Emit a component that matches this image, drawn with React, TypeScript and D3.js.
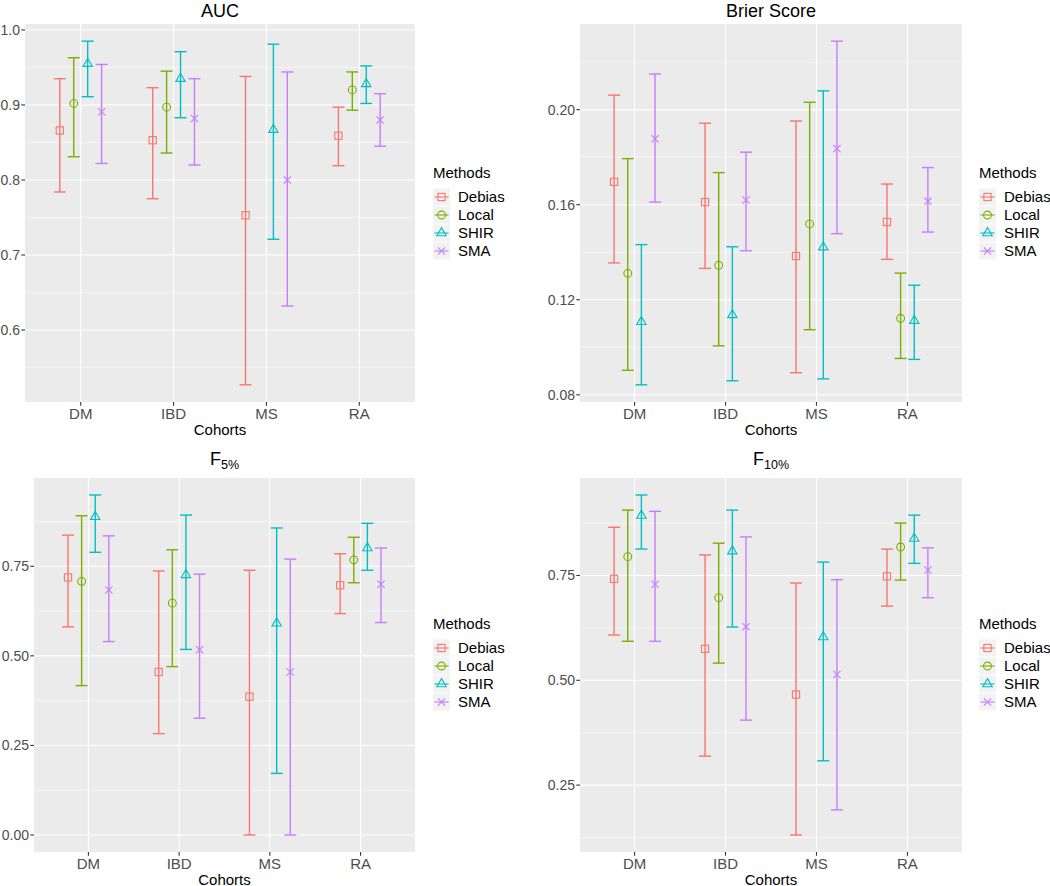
import React from "react";
import * as d3 from "d3";

const COHORTS = ["DM", "IBD", "MS", "RA"];
const METHODS = ["Debias", "Local", "SHIR", "SMA"];
const COLORS = ["#F8766D", "#7CAE00", "#00BFC4", "#C77CFF"];
const SHAPES = ["square", "circle", "triangle", "cross"];

// [method][cohort]
const aucEst = [
  [0.866, 0.853, 0.753, 0.859],
  [0.902, 0.897, null, 0.92],
  [0.955, 0.935, 0.867, 0.928],
  [0.891, 0.882, 0.8, 0.88],
];
const aucLo = [
  [0.784, 0.775, 0.527, 0.819],
  [0.831, 0.836, null, 0.893],
  [0.911, 0.883, 0.721, 0.902],
  [0.822, 0.82, 0.632, 0.845],
];
const aucHi = [
  [0.935, 0.923, 0.938, 0.897],
  [0.963, 0.945, null, 0.944],
  [0.985, 0.971, 0.981, 0.952],
  [0.954, 0.935, 0.944, 0.915],
];

const brierEst = [
  [0.1696, 0.1611, 0.1384, 0.1527],
  [0.1311, 0.1345, 0.1519, 0.1122],
  [0.1107, 0.1136, 0.1421, 0.1112],
  [0.1877, 0.162, 0.1836, 0.1614],
];
const brierLo = [
  [0.1355, 0.1332, 0.0893, 0.137],
  [0.0903, 0.1006, 0.1074, 0.0953],
  [0.0842, 0.0859, 0.0867, 0.0949],
  [0.1611, 0.1406, 0.1478, 0.1485],
];
const brierHi = [
  [0.2061, 0.1943, 0.1952, 0.1687],
  [0.1794, 0.1735, 0.2031, 0.1312],
  [0.1432, 0.1423, 0.2079, 0.1261],
  [0.215, 0.1821, 0.2288, 0.1756],
];

const f5Est = [
  [0.719, 0.455, 0.386, 0.697],
  [0.708, 0.647, null, 0.768],
  [0.888, 0.726, 0.591, 0.801],
  [0.684, 0.517, 0.455, 0.7],
];
const f5Lo = [
  [0.581, 0.283, 0.0, 0.618],
  [0.417, 0.47, null, 0.704],
  [0.789, 0.518, 0.172, 0.739],
  [0.54, 0.326, 0.0, 0.593],
];
const f5Hi = [
  [0.837, 0.737, 0.739, 0.785],
  [0.891, 0.796, null, 0.831],
  [0.949, 0.893, 0.857, 0.87],
  [0.835, 0.728, 0.77, 0.801],
];

const f10Est = [
  [0.742, 0.575, 0.466, 0.748],
  [0.795, 0.697, null, 0.818],
  [0.893, 0.808, 0.603, 0.838],
  [0.729, 0.628, 0.514, 0.763],
];
const f10Lo = [
  [0.608, 0.319, 0.131, 0.677],
  [0.593, 0.541, null, 0.739],
  [0.813, 0.627, 0.308, 0.779],
  [0.593, 0.405, 0.191, 0.697],
];
const f10Hi = [
  [0.865, 0.799, 0.732, 0.813],
  [0.906, 0.827, null, 0.875],
  [0.942, 0.906, 0.782, 0.894],
  [0.903, 0.842, 0.74, 0.816],
];

const aucTicks = [0.6, 0.7, 0.8, 0.9, 1.0];
const brierTicks = [0.08, 0.12, 0.16, 0.2];
const f5Ticks = [0, 0.25, 0.5, 0.75];
const f10Ticks = [0.25, 0.5, 0.75];

const FONT = "'Liberation Sans', Arial, Helvetica, sans-serif";

function Marker({ shape, color }: { shape: string; color: string }) {
  const sw = 1.1;
  if (shape === "square")
    return <rect x={-3.6} y={-3.6} width={7.2} height={7.2} fill="none" stroke={color} strokeWidth={sw} />;
  if (shape === "circle") return <circle r={3.9} fill="none" stroke={color} strokeWidth={sw} />;
  if (shape === "triangle")
    return <path d="M0,-5.4L4.7,2.7L-4.7,2.7Z" fill="none" stroke={color} strokeWidth={sw} />;
  return (
    <path d="M-3.6,-3.6L3.6,3.6M-3.6,3.6L3.6,-3.6" fill="none" stroke={color} strokeWidth={sw} />
  );
}

type PanelProps = {
  title: React.ReactNode;
  box: [number, number, number, number];
  est: (number | null)[][];
  lo: (number | null)[][];
  hi: (number | null)[][];
  ticks: number[];
  fmt: string;
  legendY: number;
  legendX: number;
  titleY: number;
};

function Panel({ title, box, est, lo, hi, ticks, fmt, legendY, legendX, titleY }: PanelProps) {
  const [x0, y0, x1, y1] = box;
  const all: number[] = [];
  lo.forEach((r) => r.forEach((v) => v != null && all.push(v)));
  hi.forEach((r) => r.forEach((v) => v != null && all.push(v)));
  const mn = d3.min(all)!;
  const mx = d3.max(all)!;
  const pad = (mx - mn) * 0.05;
  const y = d3.scaleLinear().domain([mn - pad, mx + pad]).range([y1, y0]);
  const x = d3.scalePoint<string>().domain(COHORTS).range([x0, x1]).padding(0.6);
  const step = x.step();
  const dodge = 0.15 * step;
  const capW = 12;
  const f = d3.format(fmt);
  const [dmin, dmax] = y.domain();
  const tstep = ticks[1] - ticks[0];
  const minors: number[] = [];
  for (let t = ticks[0] - tstep / 2; t <= dmax; t += tstep) if (t >= dmin) minors.push(t);

  return (
    <g>
      <rect x={x0} y={y0} width={x1 - x0} height={y1 - y0} fill="#EBEBEB" />
      {minors.map((t, i) => (
        <line key={"mn" + i} x1={x0} x2={x1} y1={y(t)} y2={y(t)} stroke="#fff" strokeWidth={0.55} />
      ))}
      {ticks.map((t, i) => (
        <line key={"mj" + i} x1={x0} x2={x1} y1={y(t)} y2={y(t)} stroke="#fff" strokeWidth={1.1} />
      ))}
      {COHORTS.map((c) => (
        <line key={"v" + c} x1={x(c)} x2={x(c)} y1={y0} y2={y1} stroke="#fff" strokeWidth={1.1} />
      ))}
      {METHODS.map((m, mi) => (
        <g key={m}>
          {COHORTS.map((c, ci) => {
            const e = est[mi][ci];
            const l = lo[mi][ci];
            const h = hi[mi][ci];
            if (e == null || l == null || h == null) return null;
            const cx = x(c)! + (mi - 1.5) * dodge;
            const col = COLORS[mi];
            return (
              <g key={c}>
                <line x1={cx} x2={cx} y1={y(l)} y2={y(h)} stroke={col} strokeWidth={1.4} />
                <line x1={cx - capW / 2} x2={cx + capW / 2} y1={y(l)} y2={y(l)} stroke={col} strokeWidth={1.4} />
                <line x1={cx - capW / 2} x2={cx + capW / 2} y1={y(h)} y2={y(h)} stroke={col} strokeWidth={1.4} />
                <g transform={`translate(${cx},${y(e)})`}>
                  <Marker shape={SHAPES[mi]} color={col} />
                </g>
              </g>
            );
          })}
        </g>
      ))}
      {/* y axis */}
      {ticks.map((t, i) => (
        <g key={"yt" + i}>
          <line x1={x0 - 3.7} x2={x0} y1={y(t)} y2={y(t)} stroke="#333" strokeWidth={1.1} />
          <text x={x0 - 5} y={y(t)} dy="0.35em" textAnchor="end" fontSize={14} fill="#4D4D4D" fontFamily={FONT}>
            {f(t)}
          </text>
        </g>
      ))}
      {/* x axis */}
      {COHORTS.map((c) => (
        <g key={"xt" + c}>
          <line x1={x(c)} x2={x(c)} y1={y1} y2={y1 + 3.7} stroke="#333" strokeWidth={1.1} />
          <text x={x(c)} y={y1 + 16.5} textAnchor="middle" fontSize={15} fill="#4D4D4D" fontFamily={FONT}>
            {c}
          </text>
        </g>
      ))}
      <text x={(x0 + x1) / 2} y={y1 + 32.5} textAnchor="middle" fontSize={15} fill="#000" fontFamily={FONT}>
        Cohorts
      </text>
      <text x={(x0 + x1) / 2} y={titleY} textAnchor="middle" fontSize={18} fill="#000" fontFamily={FONT}>
        {title}
      </text>
      {/* legend */}
      <text x={legendX} y={legendY} fontSize={15} fill="#000" fontFamily={FONT}>
        Methods
      </text>
      {METHODS.map((m, mi) => {
        const cy = legendY + 19 + mi * 18;
        return (
          <g key={"lg" + m}>
            <rect x={legendX} y={cy - 8.5} width={17} height={17} fill="#F2F2F2" />
            <line x1={legendX + 1.5} x2={legendX + 15.5} y1={cy} y2={cy} stroke={COLORS[mi]} strokeWidth={1.1} />
            <g transform={`translate(${legendX + 8.5},${cy})`}>
              <Marker shape={SHAPES[mi]} color={COLORS[mi]} />
            </g>
            <text x={legendX + 25} y={cy} dy="0.35em" fontSize={15} fill="#000" fontFamily={FONT}>
              {m}
            </text>
          </g>
        );
      })}
    </g>
  );
}

function SubTitle({ main, sub }: { main: string; sub: string }) {
  return (
    <>
      <tspan>{main}</tspan>
      <tspan fontSize={12.5} dy={4}>
        {sub}
      </tspan>
    </>
  );
}

export default function App() {
  return (
    <svg
      width={1050}
      height={886}
      style={{ position: "absolute", left: 0, top: 0, background: "#fff" }}
      fontFamily={FONT}
    >
      <rect width={1050} height={886} fill="#fff" />
      <Panel
        title="AUC"
        box={[25, 24, 415, 402]}
        est={aucEst}
        lo={aucLo}
        hi={aucHi}
        ticks={aucTicks}
        fmt=".1f"
        legendX={433}
        legendY={178}
        titleY={16.5}
      />
      <Panel
        title="Brier Score"
        box={[580, 24, 962, 402]}
        est={brierEst}
        lo={brierLo}
        hi={brierHi}
        ticks={brierTicks}
        fmt=".2f"
        legendX={979}
        legendY={178}
        titleY={16.5}
      />
      <Panel
        title={<SubTitle main="F" sub="5%" />}
        box={[34, 478, 415, 852]}
        est={f5Est}
        lo={f5Lo}
        hi={f5Hi}
        ticks={f5Ticks}
        fmt=".2f"
        legendX={433}
        legendY={629}
        titleY={465}
      />
      <Panel
        title={<SubTitle main="F" sub="10%" />}
        box={[580, 478, 962, 852]}
        est={f10Est}
        lo={f10Lo}
        hi={f10Hi}
        ticks={f10Ticks}
        fmt=".2f"
        legendX={979}
        legendY={629}
        titleY={465}
      />
    </svg>
  );
}
